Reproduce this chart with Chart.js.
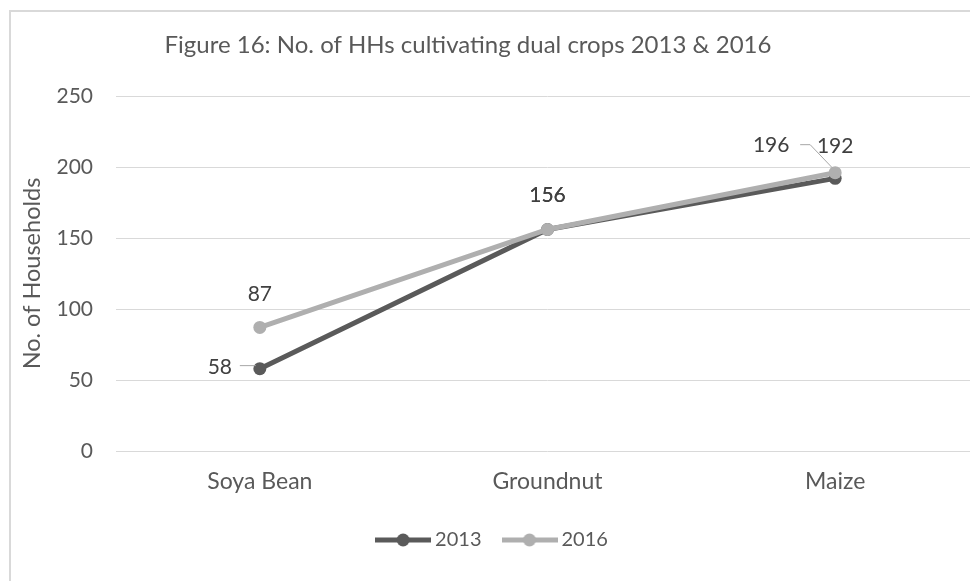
<!DOCTYPE html>
<html>
<head>
<meta charset="utf-8">
<script src="https://cdn.jsdelivr.net/npm/chart.js@4"></script>
<style>
  html, body { margin: 0; padding: 0; background: #fff; overflow: hidden; width: 970px; height: 581px; }
  /* the chart object runs a little past the right edge of the picture */
  #wrap { width: 979px; height: 581px; position: relative; }
</style>
</head>
<body>
<div id="wrap"><canvas id="chart"></canvas></div>
<script>
var crops = ['Soya Bean', 'Groundnut', 'Maize'];
var values2013 = [58, 156, 192];
var values2016 = [87, 156, 196];
var seriesNames = ['2013', '2016'];
var seriesColors = ['#5a5a5a', '#afafaf'];

// where each value label sits relative to its point (px), plus optional leader line
var labelPlacement = [
    [{dx: -40, dy: -1, leader: [[-20, -3], [-4, -3]]}, {dx: 0, dy: -34}, {dx: 0, dy: -32}],
    [{dx: 0, dy: -33}, {dx: 0, dy: -34}, {dx: -64, dy: -27, leader: [[-35, -28], [-25, -28], [-3, -5]]}]
];

var FONT = 'Lato, "Noto Sans", sans-serif';
var TEXT = '#595959';

function legendImage(color) {
    var c = document.createElement('canvas');
    c.width = 56;
    c.height = 14;
    var g = c.getContext('2d');
    g.strokeStyle = color;
    g.lineWidth = 5;
    g.beginPath();
    g.moveTo(0, 7);
    g.lineTo(56, 7);
    g.stroke();
    g.fillStyle = color;
    g.beginPath();
    g.arc(28, 7, 6.5, 0, Math.PI * 2);
    g.fill();
    return c;
}

var legendImages = seriesColors.map(legendImage);

var frame = {
    id: 'frame',
    beforeDraw: function(chart) {
        var ctx = chart.ctx;
        ctx.save();
        ctx.strokeStyle = '#d9d9d9';
        ctx.lineWidth = 2;
        ctx.strokeRect(10, 11, 1200, 1200);
        ctx.restore();
    },
    afterLayout: function(chart) {
        // title is centred on the whole chart object, which runs past the picture
        if (chart.titleBlock) {
            chart.titleBlock.left = 0;
            chart.titleBlock.right = 936;
        }
    }
};

var valueLabels = {
    id: 'valueLabels',
    afterDatasetsDraw: function(chart) {
        var ctx = chart.ctx;
        ctx.save();
        ctx.font = '21px ' + FONT;
        ctx.textAlign = 'center';
        ctx.textBaseline = 'middle';
        chart.data.datasets.forEach(function(ds, d) {
            var meta = chart.getDatasetMeta(d);
            meta.data.forEach(function(pt, i) {
                var place = labelPlacement[d][i];
                if (place.leader) {
                    ctx.strokeStyle = '#a6a6a6';
                    ctx.lineWidth = 1;
                    ctx.beginPath();
                    place.leader.forEach(function(p, k) {
                        if (k === 0) ctx.moveTo(pt.x + p[0], pt.y + p[1]);
                        else ctx.lineTo(pt.x + p[0], pt.y + p[1]);
                    });
                    ctx.stroke();
                }
                ctx.fillStyle = '#404040';
                ctx.fillText(String(ds.data[i]), pt.x + place.dx, pt.y + place.dy);
            });
        });
        ctx.restore();
    }
};

function makeDataset(label, data, color, order) {
    return {
        label: label,
        data: data,
        borderColor: color,
        backgroundColor: color,
        borderWidth: 5,
        pointRadius: 6.5,
        pointHoverRadius: 6.5,
        pointBorderWidth: 0,
        pointBackgroundColor: color,
        tension: 0,
        order: order
    };
}

new Chart(document.getElementById('chart'), {
    type: 'line',
    data: {
        labels: crops,
        datasets: [
            makeDataset(seriesNames[0], values2013, seriesColors[0], 1),
            makeDataset(seriesNames[1], values2016, seriesColors[1], 0)
        ]
    },
    options: {
        responsive: true,
        maintainAspectRatio: false,
        animation: false,
        layout: {autoPadding: false, padding: {top: 0, left: 10, right: 0, bottom: 21}},
        plugins: {
            tooltip: {enabled: false},
            title: {
                display: true,
                text: 'Figure 16: No. of HHs cultivating dual crops 2013 & 2016',
                color: TEXT,
                font: {family: FONT, size: 24, weight: 'normal'},
                padding: {top: 30.6, bottom: 36.6}
            },
            legend: {
                position: 'bottom',
                labels: {
                    usePointStyle: true,
                    pointStyleWidth: 44,
                    padding: 26,
                    color: TEXT,
                    font: {family: FONT, size: 20},
                    generateLabels: function(chart) {
                        return seriesNames.map(function(name, i) {
                            return {
                                text: name,
                                datasetIndex: i,
                                pointStyle: legendImages[i],
                                fillStyle: seriesColors[i],
                                strokeStyle: seriesColors[i],
                                fontColor: TEXT,
                                lineWidth: 0,
                                hidden: false
                            };
                        });
                    }
                }
            }
        },
        scales: {
            x: {
                offset: true,
                grid: {display: false, drawTicks: false},
                border: {display: false},
                ticks: {color: TEXT, font: {family: FONT, size: 23}, padding: 17},
                afterFit: function(scale) {
                    scale.height = 53;
                    scale.paddingLeft = 0;
                    scale.paddingRight = 0;
                }
            },
            y: {
                min: 0,
                max: 250,
                grid: {color: '#d9d9d9', lineWidth: 1, drawTicks: false},
                border: {display: false},
                ticks: {stepSize: 50, color: TEXT, font: {family: FONT, size: 21}, padding: 23},
                title: {
                    display: true,
                    text: 'No. of Households',
                    color: TEXT,
                    font: {family: FONT, size: 23.5},
                    padding: {top: 8, bottom: 0}
                },
                afterFit: function(scale) { scale.width = 106; }
            }
        }
    },
    plugins: [frame, valueLabels]
});
</script>
</body>
</html>
